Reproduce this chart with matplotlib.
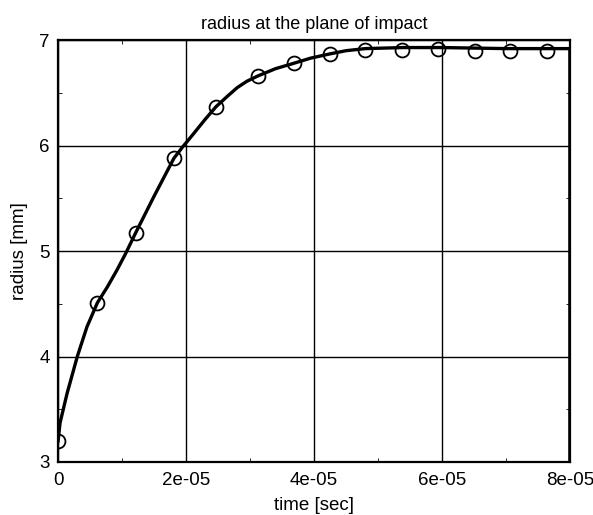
import matplotlib
matplotlib.use("Agg")
import matplotlib.pyplot as plt
from matplotlib.ticker import MultipleLocator

plt.rcParams['font.family'] = ['Liberation Sans', 'DejaVu Sans']

# curve samples (time [s], radius [mm])
line_t = [0.0, 0.03e-5, 0.14e-5, 0.3e-5, 0.45e-5, 0.614e-5, 0.77e-5, 0.92e-5,
          1.05e-5, 1.21e-5, 1.5e-5, 1.81e-5, 1.95e-5, 2.1e-5, 2.3e-5,
          2.47e-5, 2.65e-5, 2.8e-5, 2.95e-5, 3.12e-5, 3.4e-5, 3.68e-5, 3.95e-5,
          4.25e-5, 4.5e-5, 4.8e-5, 5.4e-5, 6.0e-5, 7.0e-5, 8.0e-5, 8.0e-5]
line_r = [3.2, 3.37, 3.65, 4.0, 4.28, 4.51, 4.66, 4.82,
          4.97, 5.17, 5.52, 5.88, 5.99, 6.1, 6.25,
          6.37, 6.47, 6.55, 6.61, 6.66, 6.73, 6.78, 6.83,
          6.87, 6.90, 6.92, 6.93, 6.93, 6.92, 6.92, 0.0]

# marker samples
mark_t = [0.0, 0.614e-5, 1.21e-5, 1.81e-5, 2.47e-5, 3.12e-5, 3.68e-5, 4.25e-5,
          4.8e-5, 5.37e-5, 5.94e-5, 6.52e-5, 7.07e-5, 7.64e-5]
mark_r = [3.2, 4.51, 5.17, 5.88, 6.37, 6.66, 6.78, 6.87,
          6.91, 6.91, 6.92, 6.90, 6.90, 6.90]

xticks = [0, 2e-5, 4e-5, 6e-5, 8e-5]
xticklabels = ['0', '2e-05', '4e-05', '6e-05', '8e-05']
yticks = [3, 4, 5, 6, 7]

fig = plt.figure(figsize=(5.93, 5.15), dpi=100)
ax = fig.add_axes([0.098, 0.103, 0.863, 0.819])

ax.plot(line_t, line_r, color='black', lw=2.4, zorder=3,
        solid_joinstyle='round')
ax.plot(mark_t, mark_r, linestyle='none', marker='o', markersize=10,
        markerfacecolor='none', markeredgecolor='black', markeredgewidth=1.3, zorder=4)

ax.set_xlim(0, 8e-5)
ax.set_ylim(3, 7)
ax.set_xticks(xticks)
ax.set_xticklabels(xticklabels)
ax.set_yticks(yticks)
ax.xaxis.set_minor_locator(MultipleLocator(1e-5))
ax.yaxis.set_minor_locator(MultipleLocator(0.5))
ax.tick_params(which='both', direction='in', top=True, right=True, labelsize=13.5)
ax.tick_params(which='major', length=0)
ax.tick_params(axis='x', which='major', pad=7)
ax.tick_params(axis='y', which='major', pad=6)
ax.tick_params(which='minor', length=3)
ax.grid(True, which='major', color='black', lw=1.0)
for s in ax.spines.values():
    s.set_linewidth(1.6)

ax.set_title('radius at the plane of impact', fontsize=13, pad=8)
ax.set_xlabel('time [sec]', fontsize=13.5, labelpad=6)
ax.set_ylabel('radius [mm]', fontsize=13.5, labelpad=8)

fig.savefig('out.png', dpi=100)
